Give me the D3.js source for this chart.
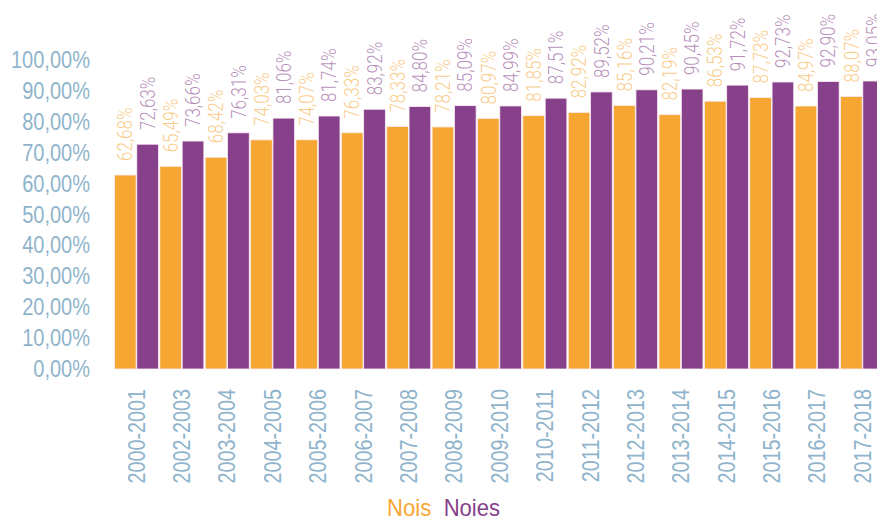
<!DOCTYPE html>
<html>
<head>
<meta charset="utf-8">
<script src="https://cdn.jsdelivr.net/npm/d3@7"></script>
<style>
  body { margin: 0; background: #fff; }
  svg { display: block; }
</style>
</head>
<body>
<svg id="chart"></svg>
<script>
let cursos = ["2000-2001", "2002-2003", "2003-2004", "2004-2005", "2005-2006", "2006-2007",
	"2007-2008", "2008-2009", "2009-2010", "2010-2011", "2011-2012", "2012-2013",
	"2013-2014", "2014-2015", "2015-2016", "2016-2017", "2017-2018"];
let nois = [62.68, 65.49, 68.42, 74.03, 74.07, 76.33, 78.33, 78.21, 80.97, 81.85, 82.92,
	85.16, 82.19, 86.53, 87.73, 84.97, 88.07];
let noies = [72.63, 73.66, 76.31, 81.06, 81.74, 83.92, 84.80, 85.09, 84.99, 87.51, 89.52,
	90.21, 90.45, 91.72, 92.73, 92.90, 93.05];
let series = ["Nois", "Noies"];
let yTicks = [0, 10, 20, 30, 40, 50, 60, 70, 80, 90, 100];

let colors = { Nois: "#f6a733", Noies: "#86418a" };
let axisColor = "#8fb4cc";
let W = 877, H = 522;

let locale = d3.formatLocale({ decimal: ",", thousands: ".", grouping: [3], currency: ["", " €"] });
let pct = (v) => locale.format(".2f")(v) + "%";

// squeeze glyphs a bit, the original font is narrower than Liberation Sans
let squeeze = function(sel, k) {
	sel.each(function() {
		let len = this.getComputedTextLength();
		d3.select(this).attr("textLength", len * k).attr("lengthAdjust", "spacingAndGlyphs");
	});
};

let svg = d3.select("#chart").attr("width", W).attr("height", H);

let x0 = d3.scaleBand().domain(cursos).range([114, 114 + 17 * 45.35]).paddingInner(0.03).paddingOuter(0.01);
let x1 = d3.scaleBand().domain(series).range([0, x0.bandwidth()]).paddingInner(0.03);
let y = d3.scaleLinear().domain([0, 100]).range([369, 59.5]);

let rows = cursos.map((c, i) => ({ curs: c, vals: [
	{ key: "Nois", v: nois[i] },
	{ key: "Noies", v: noies[i] }
] }));

// y axis labels
let yl = svg.append("g").selectAll("text").data(yTicks).enter().append("text")
	.attr("x", 90)
	.attr("y", (d) => y(d))
	.attr("dy", "0.36em")
	.attr("text-anchor", "end")
	.style("font-family", "'Liberation Sans', Arial, sans-serif")
	.style("font-size", "23px")
	.style("fill", axisColor)
	.text((d) => pct(d));
squeeze(yl, 0.87);

let groups = svg.append("g").selectAll("g").data(rows).enter().append("g")
	.attr("transform", (d) => "translate(" + x0(d.curs) + ",0)");

groups.selectAll("rect").data((d) => d.vals).enter().append("rect")
	.attr("x", (d) => x1(d.key))
	.attr("y", (d) => y(d.v))
	.attr("width", x1.bandwidth())
	.attr("height", (d) => y(0) - y(d.v))
	.style("fill", (d) => colors[d.key])
	.style("stroke", "#fbeef5")
	.style("stroke-width", 0.8);

// value labels, rotated
let vl = groups.selectAll("text").data((d) => d.vals).enter().append("text")
	.attr("transform", (d) => "translate(" + (x1(d.key) + x1.bandwidth() / 2) + "," + (y(d.v) - 14) + ") rotate(-90)")
	.attr("dy", "0.36em")
	.attr("text-anchor", "start")
	.style("font-family", "Roboto, 'Liberation Sans', sans-serif")
	.style("font-weight", 300)
	.style("font-size", "20px")
	.style("fill", (d) => colors[d.key])
	.style("fill-opacity", 0.6)
	.text((d) => pct(d.v));
squeeze(vl, 0.85);

// category labels
let xl = svg.append("g").selectAll("text").data(cursos).enter().append("text")
	.attr("transform", (d) => "translate(" + (x0(d) + x0.bandwidth() / 2) + ",389) rotate(-90)")
	.attr("dy", "0.36em")
	.attr("text-anchor", "end")
	.style("font-family", "'Liberation Sans', Arial, sans-serif")
	.style("font-size", "23px")
	.style("fill", axisColor)
	.text((d) => d);
squeeze(xl, 0.86);

// legend
let lg = svg.append("g").attr("transform", "translate(387,516)");
let lx = 0;
series.forEach(function(s) {
	let t = lg.append("text")
		.attr("x", lx)
		.style("font-family", "'Liberation Sans', Arial, sans-serif")
		.style("font-size", "24px")
		.style("fill", colors[s])
		.text(s);
	squeeze(t, 0.92);
	lx += t.node().getComputedTextLength() * 0.92 + 16;
});
</script>
</body>
</html>
